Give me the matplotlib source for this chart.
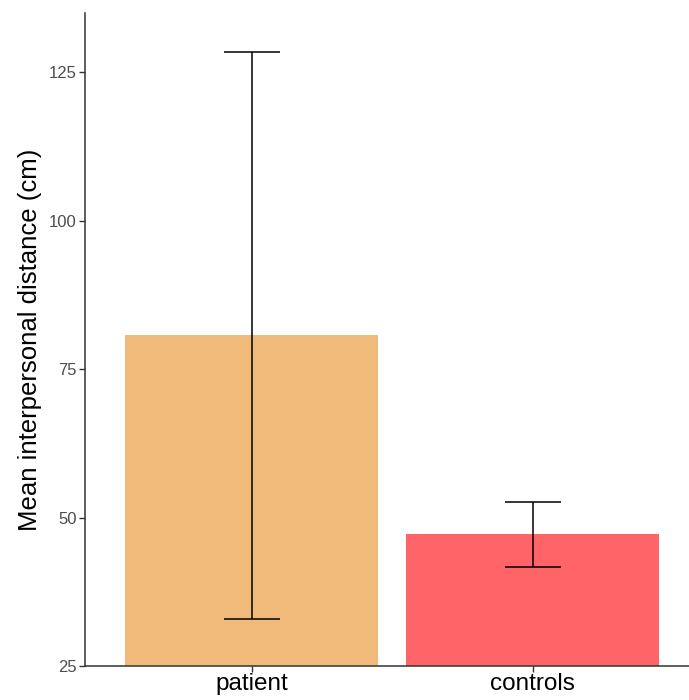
import matplotlib
matplotlib.use("Agg")
import matplotlib.pyplot as plt

plt.rcParams['font.family'] = ['Liberation Sans', 'DejaVu Sans']

groups = ["patient", "controls"]
means = [80.7, 47.3]
lower = [33.0, 41.8]
upper = [128.5, 52.6]
colors = ["#F0BA7A", "#FF6468"]
yticks = [25, 50, 75, 100, 125]

fig = plt.figure(figsize=(6.89, 7.0), dpi=100)
ax = fig.add_axes([85/689, 1 - 666.3/700, 1 - 85/689, (666.3 - 13)/700])

x = list(range(1, len(groups) + 1))
ax.bar(x, means, width=0.9, color=colors, zorder=1)
ax.vlines(x, lower, upper, color="black", linewidth=1.1, zorder=2)
capw = 0.1
for xi, lo, hi in zip(x, lower, upper):
    ax.hlines([lo, hi], xi - capw, xi + capw, color="black", linewidth=1.1, zorder=2)

ax.set_xlim(0.407, 2.556)
ax.set_ylim(25, 135)
ax.set_xticks(x)
ax.set_xticklabels(groups, fontsize=17.5, color="black")
ax.set_yticks(yticks)
ax.set_yticklabels([str(t) for t in yticks], fontsize=12, color="#4D4D4D")
ax.tick_params(axis="both", length=4, width=1, color="#333333")
ax.tick_params(axis="x", pad=1)
ax.tick_params(axis="y", pad=2)
for s in ["top", "right"]:
    ax.spines[s].set_visible(False)
for s in ["left", "bottom"]:
    ax.spines[s].set_linewidth(1.1)
    ax.spines[s].set_color("#333333")
ax.set_ylabel("Mean interpersonal distance (cm)", fontsize=18.5, color="black", labelpad=5)

fig.savefig("out.png", dpi=100)
